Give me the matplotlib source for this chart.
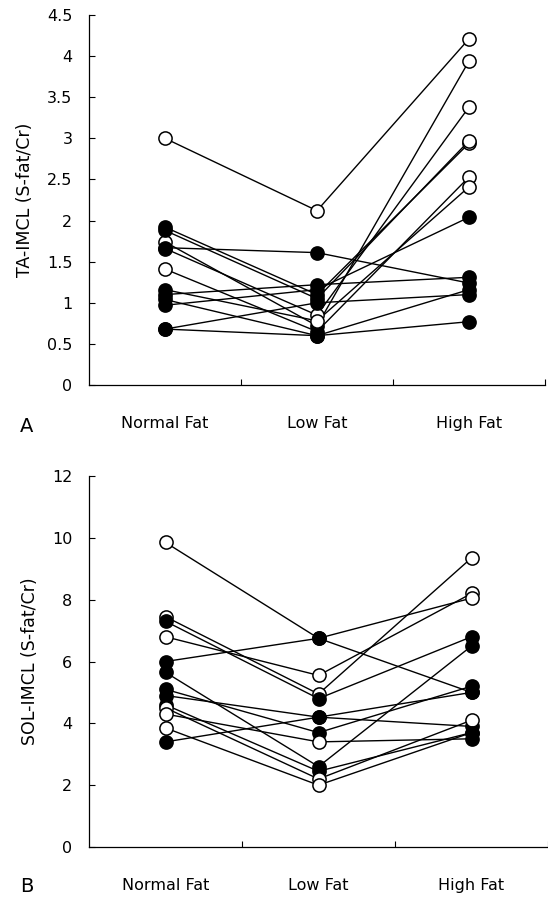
import matplotlib
matplotlib.use("Agg")
import matplotlib.pyplot as plt

categories = ["Normal Fat", "Low Fat", "High Fat"]

# Panel A: TA-IMCL, one row per subject (Normal, Low, High)
ta_values = [
    [3.00, 2.12, 4.21],
    [1.74, 0.72, 3.94],
    [1.92, 1.10, 2.94],
    [1.88, 1.05, 2.97],
    [1.67, 1.61, 1.24],
    [1.66, 0.85, 3.38],
    [1.41, 0.65, 2.53],
    [1.16, 0.78, 2.41],
    [1.10, 1.22, 1.31],
    [1.04, 0.60, 1.16],
    [0.97, 1.16, 2.04],
    [0.68, 1.00, 1.10],
    [0.68, 0.60, 0.77],
]
# marker filled (True) / open (False) per point
ta_filled = [
    [False, False, False],
    [False, True, False],
    [True, True, False],
    [True, True, False],
    [True, True, True],
    [True, False, False],
    [False, True, False],
    [True, False, False],
    [True, True, True],
    [True, True, True],
    [True, True, True],
    [True, True, True],
    [True, True, True],
]

# Panel B: SOL-IMCL
sol_values = [
    [9.85, 6.75, 5.00],
    [7.45, 4.95, 9.35],
    [7.30, 4.80, 6.80],
    [6.80, 5.55, 8.20],
    [6.00, 6.75, 8.05],
    [5.65, 2.60, 6.50],
    [5.10, 3.70, 5.20],
    [4.90, 4.20, 3.90],
    [4.60, 2.45, 3.70],
    [4.50, 2.20, 4.10],
    [4.30, 3.40, 3.50],
    [3.85, 2.00, 3.70],
    [3.40, 4.20, 5.00],
]
sol_filled = [
    [False, True, True],
    [False, False, False],
    [True, True, True],
    [False, False, False],
    [True, True, False],
    [True, True, True],
    [True, True, True],
    [True, True, True],
    [True, True, True],
    [False, False, False],
    [False, False, True],
    [False, False, True],
    [True, True, True],
]

ta_yticks = [0, 0.5, 1, 1.5, 2, 2.5, 3, 3.5, 4, 4.5]
ta_yticklabels = ["0", "0.5", "1", "1.5", "2", "2.5", "3", "3.5", "4", "4.5"]
sol_yticks = [0, 2, 4, 6, 8, 10, 12]
sol_yticklabels = ["0", "2", "4", "6", "8", "10", "12"]

plt.rcParams['font.family'] = ['DejaVu Sans']

W, H = 548, 902
fig = plt.figure(figsize=(W / 100, H / 100), dpi=100)

xpos = [0.5, 1.5, 2.5]
FS = 11.5


def draw(ax, values, filled, yticks, yticklabels, ylim, ylabel):
    for row, frow in zip(values, filled):
        ax.plot(xpos, row, color="black", lw=1.0, zorder=2)
        for x, y, f in zip(xpos, row, frow):
            ax.plot(x, y, marker="o", ms=9.5, mec="black", mew=1.1,
                    mfc="black" if f else "white", zorder=3)
    ax.set_ylim(*ylim)
    ax.set_yticks(yticks)
    ax.set_yticklabels(yticklabels, fontsize=FS)
    ax.set_xticks([1, 2, 3])
    ax.set_xticklabels([])
    ax.set_xticks(xpos, minor=True)
    ax.set_xticklabels(categories, minor=True, fontsize=FS)
    ax.tick_params(axis="x", which="minor", length=0, pad=22)
    ax.tick_params(axis="x", which="major", direction="in", length=4, width=0.8)
    ax.tick_params(axis="y", direction="in", length=4, width=0.8, pad=12)
    for s in ["top", "right"]:
        ax.spines[s].set_visible(False)
    for s in ["left", "bottom"]:
        ax.spines[s].set_linewidth(0.9)
    ax.set_ylabel(ylabel, fontsize=12.5, labelpad=9)


# Panel A
axA = fig.add_axes([89 / W, 1 - 385 / H, (545 - 89) / W, (385 - 15) / H])
axA.set_xlim(0, 3)
draw(axA, ta_values, ta_filled, ta_yticks, ta_yticklabels, (0, 4.5),
     "TA-IMCL (S-fat/Cr)")

# Panel B
axB = fig.add_axes([89 / W, 1 - 847 / H, (548 - 89) / W, (847 - 476) / H])
axB.set_xlim(0, (548 - 89) / 155)
draw(axB, sol_values, sol_filled, sol_yticks, sol_yticklabels, (0, 12),
     "SOL-IMCL (S-fat/Cr)")

fig.text(20 / W, 1 - 426 / H, "A", fontsize=14, ha="left", va="center")
fig.text(20 / W, 1 - 886 / H, "B", fontsize=14, ha="left", va="center")

fig.savefig("out.png", dpi=100)
